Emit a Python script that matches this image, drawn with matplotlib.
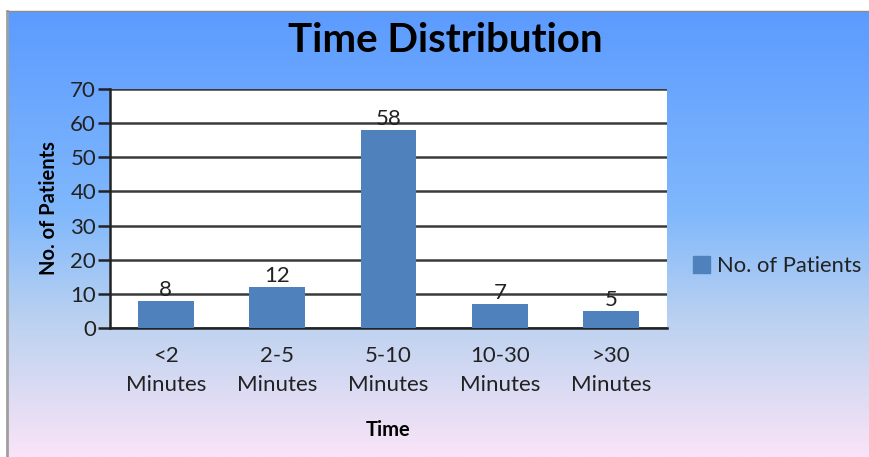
import numpy as np
import matplotlib
matplotlib.use("Agg")
import matplotlib.pyplot as plt
from matplotlib.colors import LinearSegmentedColormap
from matplotlib.patches import Patch

categories = ["<2\nMinutes", "2-5\nMinutes", "5-10\nMinutes", "10-30\nMinutes", ">30\nMinutes"]
patients = [8, 12, 58, 7, 5]
y_ticks = [0, 10, 20, 30, 40, 50, 60, 70]

W, H = 869, 457
fig = plt.figure(figsize=(W / 100, H / 100), dpi=100)
fig.patch.set_facecolor("white")
plt.rcParams["font.family"] = ["Lato", "DejaVu Sans"]

# gradient panel behind everything
x0, y0 = 7, 11
bg = fig.add_axes([x0 / W, 0, 1.02 - x0 / W, (H - y0) / H], zorder=-5)
cmap = LinearSegmentedColormap.from_list(
    "panel", [(0.0, "#5C9BFF"), (0.45, "#80B8FC"), (0.7, "#BCD2F0"), (1.0, "#FAE4F7")])
grad = np.linspace(0, 1, 256).reshape(-1, 1)
bg.imshow(grad, aspect="auto", cmap=cmap, extent=[0, 1, 0, 1], origin="upper")
bg.set_axis_off()
fig.add_artist(plt.Line2D([(x0 - 0.5) / W] * 2, [0, (H - y0) / H],
                          color="#A0A0A0", lw=2, transform=fig.transFigure))
fig.add_artist(plt.Line2D([x0 / W, 1], [(H - y0) / H] * 2,
                          color="#8C8C8C", lw=1, transform=fig.transFigure))

# plot area
left, right, top, bottom = 110, 667, 89, 328
ax = fig.add_axes([left / W, 1 - bottom / H, (right - left) / W, (bottom - top) / H])
ax.set_facecolor("white")
x = np.arange(len(categories))
bars = ax.bar(x, patients, width=0.5, color="#4F81BD", zorder=3)
ax.set_xlim(-0.5, len(categories) - 0.5)
ax.set_ylim(0, 70)
ax.set_yticks(y_ticks)
ax.yaxis.grid(True, color="#3A3A3A", lw=1.8, zorder=1)
ax.set_axisbelow(True)
for s in ["top", "right"]:
    ax.spines[s].set_visible(False)
ax.spines["left"].set_color("#222222")
ax.spines["left"].set_linewidth(1.8)
ax.spines["bottom"].set_color("#222222")
ax.spines["bottom"].set_linewidth(1.8)
ax.tick_params(axis="y", length=9, width=1.8, color="#222222", labelsize=16,
               labelcolor="#222222", pad=1)
ax.tick_params(axis="x", length=0, labelsize=16, labelcolor="#222222", pad=13)
ax.set_xticks(x)
ax.set_xticklabels(categories, linespacing=1.55)

for xi, v in zip(x, patients):
    ax.text(xi, v + 0.2, str(v), ha="center", va="bottom", fontsize=16, color="#222222")

ax.set_ylabel("No. of Patients", fontsize=14.5, fontweight="bold", labelpad=8)
ax.set_xlabel("Time", fontsize=14.5, fontweight="bold", labelpad=18)

fig.text(0.5 * (287 + 603) / W, 1 - 40 / H, "Time Distribution", ha="center", va="center",
         fontsize=29, fontweight="bold", color="black")

fig.legend(handles=[Patch(color="#4F81BD", label="No. of Patients")],
           loc="center left", bbox_to_anchor=(673 / W, 1 - 266 / H),
           frameon=False, fontsize=15.8, handlelength=0.8, handleheight=0.8,
           handletextpad=0.3, labelcolor="#222222")

fig.savefig("out.png", dpi=100)
